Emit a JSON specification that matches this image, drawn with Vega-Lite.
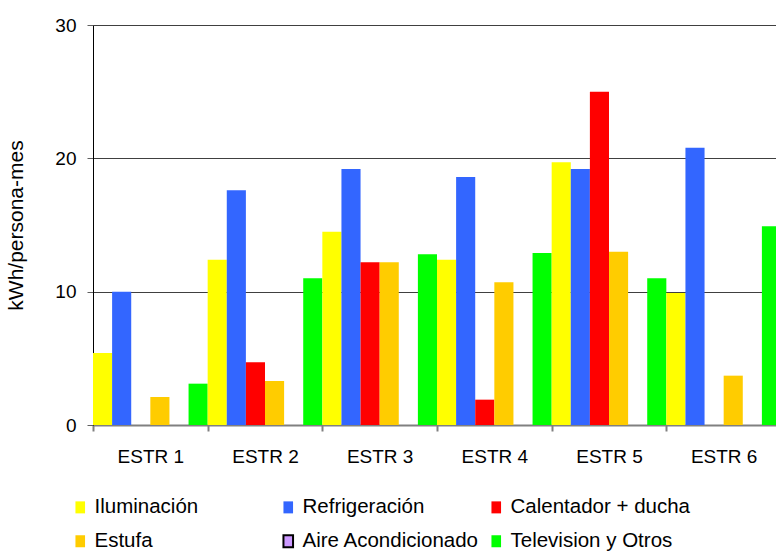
{
  "$schema": "https://vega.github.io/schema/vega-lite/v6.json",
  "description": "Consumo por uso final y estrato, kWh por persona al mes.",
  "autosize": "none",
  "width": 683,
  "height": 400,
  "padding": {"left": 93, "top": 25, "right": 0, "bottom": 126},
  "background": "white",
  "data": {
    "values": [
      {"estrato": "ESTR 1", "uso": "Iluminación", "kwh": 5.4},
      {"estrato": "ESTR 1", "uso": "Refrigeración", "kwh": 10.0},
      {"estrato": "ESTR 1", "uso": "Calentador + ducha", "kwh": 0},
      {"estrato": "ESTR 1", "uso": "Estufa", "kwh": 2.1},
      {"estrato": "ESTR 1", "uso": "Aire Acondicionado", "kwh": 0},
      {"estrato": "ESTR 1", "uso": "Television y Otros", "kwh": 3.1},
      {"estrato": "ESTR 2", "uso": "Iluminación", "kwh": 12.4},
      {"estrato": "ESTR 2", "uso": "Refrigeración", "kwh": 17.6},
      {"estrato": "ESTR 2", "uso": "Calentador + ducha", "kwh": 4.7},
      {"estrato": "ESTR 2", "uso": "Estufa", "kwh": 3.3},
      {"estrato": "ESTR 2", "uso": "Aire Acondicionado", "kwh": 0},
      {"estrato": "ESTR 2", "uso": "Television y Otros", "kwh": 11.0},
      {"estrato": "ESTR 3", "uso": "Iluminación", "kwh": 14.5},
      {"estrato": "ESTR 3", "uso": "Refrigeración", "kwh": 19.2},
      {"estrato": "ESTR 3", "uso": "Calentador + ducha", "kwh": 12.2},
      {"estrato": "ESTR 3", "uso": "Estufa", "kwh": 12.2},
      {"estrato": "ESTR 3", "uso": "Aire Acondicionado", "kwh": 0},
      {"estrato": "ESTR 3", "uso": "Television y Otros", "kwh": 12.8},
      {"estrato": "ESTR 4", "uso": "Iluminación", "kwh": 12.4},
      {"estrato": "ESTR 4", "uso": "Refrigeración", "kwh": 18.6},
      {"estrato": "ESTR 4", "uso": "Calentador + ducha", "kwh": 1.9},
      {"estrato": "ESTR 4", "uso": "Estufa", "kwh": 10.7},
      {"estrato": "ESTR 4", "uso": "Aire Acondicionado", "kwh": 0},
      {"estrato": "ESTR 4", "uso": "Television y Otros", "kwh": 12.9},
      {"estrato": "ESTR 5", "uso": "Iluminación", "kwh": 19.7},
      {"estrato": "ESTR 5", "uso": "Refrigeración", "kwh": 19.2},
      {"estrato": "ESTR 5", "uso": "Calentador + ducha", "kwh": 25.0},
      {"estrato": "ESTR 5", "uso": "Estufa", "kwh": 13.0},
      {"estrato": "ESTR 5", "uso": "Aire Acondicionado", "kwh": 0},
      {"estrato": "ESTR 5", "uso": "Television y Otros", "kwh": 11.0},
      {"estrato": "ESTR 6", "uso": "Iluminación", "kwh": 9.9},
      {"estrato": "ESTR 6", "uso": "Refrigeración", "kwh": 20.8},
      {"estrato": "ESTR 6", "uso": "Calentador + ducha", "kwh": 0},
      {"estrato": "ESTR 6", "uso": "Estufa", "kwh": 3.7},
      {"estrato": "ESTR 6", "uso": "Aire Acondicionado", "kwh": 0},
      {"estrato": "ESTR 6", "uso": "Television y Otros", "kwh": 14.9}
    ]
  },
  "mark": {"type": "bar"},
  "encoding": {
    "x": {
      "field": "estrato",
      "type": "nominal",
      "scale": {"paddingInner": 0, "paddingOuter": 0, "range": [0, 688]},
      "axis": {
        "title": null,
        "labelAngle": 0,
        "labelFontSize": 19,
        "labelColor": "black",
        "labelPadding": 16,
        "domainColor": "#808080",
        "domainWidth": 2,
        "tickBand": "extent",
        "tickColor": "#808080",
        "tickWidth": 2,
        "tickSize": 6
      }
    },
    "xOffset": {
      "field": "uso",
      "type": "nominal",
      "sort": ["Iluminación", "Refrigeración", "Calentador + ducha", "Estufa", "Aire Acondicionado", "Television y Otros"],
      "scale": {"paddingInner": 0, "paddingOuter": 0}
    },
    "y": {
      "field": "kwh",
      "type": "quantitative",
      "scale": {"domain": [0, 30]},
      "axis": {
        "title": "kWh/persona-mes",
        "titleFontSize": 21,
        "titleFontWeight": "normal",
        "titleColor": "black",
        "titlePadding": 28,
        "values": [0, 10, 20, 30],
        "grid": true,
        "gridColor": "#404040",
        "gridWidth": 1,
        "domainColor": "black",
        "domainWidth": 1,
        "tickColor": "#606060",
        "tickSize": 6,
        "labelFontSize": 19,
        "labelColor": "black",
        "labelPadding": 11
      }
    },
    "color": {
      "field": "uso",
      "type": "nominal",
      "sort": ["Iluminación", "Refrigeración", "Calentador + ducha", "Estufa", "Aire Acondicionado", "Television y Otros"],
      "scale": {
        "domain": ["Iluminación", "Refrigeración", "Calentador + ducha", "Estufa", "Aire Acondicionado", "Television y Otros"],
        "range": ["#ffff00", "#3366ff", "#ff0000", "#ffcc00", "#cc99ff", "#00ff00"]
      },
      "legend": {
        "title": null,
        "orient": "none",
        "legendX": -23,
        "legendY": 472,
        "direction": "horizontal",
        "columns": 3,
        "gridAlign": "all",
        "columnPadding": 3,
        "rowPadding": 13,
        "symbolType": "M-0.8,-1H0.8V1H-0.8Z",
        "symbolSize": 144,
        "labelFontSize": 20.5,
        "labelColor": "black",
        "labelOffset": 4,
        "labelLimit": 300,
        "encode": {
          "symbols": {
            "update": {
              "stroke": {"signal": "datum.value === 'Aire Acondicionado' ? 'black' : null"},
              "strokeWidth": {"value": 2}
            }
          }
        }
      }
    }
  },
  "config": {
    "font": "Liberation Sans",
    "view": {"stroke": null}
  }
}
